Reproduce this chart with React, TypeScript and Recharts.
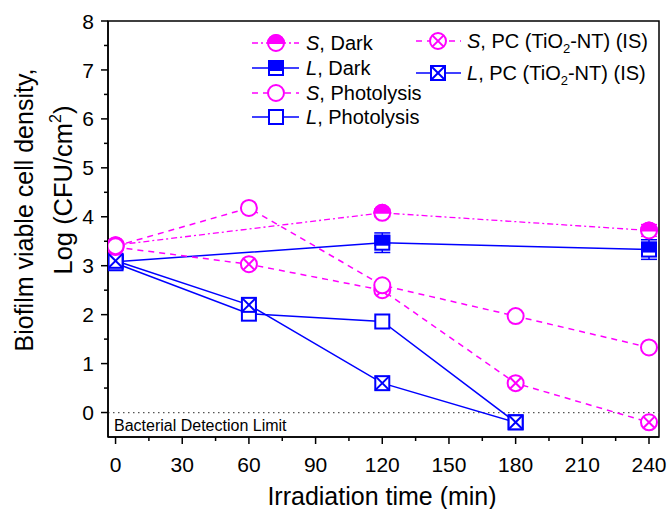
import { ErrorBar, Line, LineChart, ReferenceArea, ReferenceLine, XAxis, YAxis } from "recharts";

const times = [0, 60, 120, 180, 240];
const sDark = [3.42, null, 4.08, null, 3.72];
const sDarkErr = [0.08, null, 0.08, null, 0.12];
const lDark = [3.08, null, 3.47, null, 3.33];
const lDarkErr = [0.08, null, 0.2, null, 0.2];
const sPhoto = [3.4, 4.18, 2.6, 1.97, 1.33];
const lPhoto = [3.05, 2.02, 1.86, -0.2, null];
const sPc = [3.38, 3.03, 2.5, 0.6, -0.2];
const lPc = [3.1, 2.2, 0.6, -0.2, null];

const xTicks = [0, 15, 30, 45, 60, 75, 90, 105, 120, 135, 150, 165, 180, 195, 210, 225, 240];
const yTicks = [0, 0.5, 1, 1.5, 2, 2.5, 3, 3.5, 4, 4.5, 5, 5.5, 6, 6.5, 7, 7.5, 8];

const MAG = "#ff00ff";
const BLUE = "#0000ff";
const FONT = "Arial, 'Liberation Sans', sans-serif";
const R = 8;
const H = 7;

type Row = { t: number; v: number; e: number };
const toRows = (vals: (number | null)[], errs?: (number | null)[]): Row[] =>
  times
    .map((t, i) => ({ t, v: vals[i] as number, e: errs ? (errs[i] ?? 0) : 0 }))
    .filter((r) => r.v !== null);

type MP = { cx: number; cy: number };

const HalfCircle = ({ cx, cy }: MP) => (
  <g>
    <circle cx={cx} cy={cy} r={R} fill="#fff" stroke={MAG} strokeWidth={2} />
    <path d={`M${cx - R},${cy} A${R},${R} 0 0 1 ${cx + R},${cy} Z`} fill={MAG} stroke={MAG} strokeWidth={2} />
  </g>
);
const OpenCircle = ({ cx, cy }: MP) => <circle cx={cx} cy={cy} r={R} fill="#fff" stroke={MAG} strokeWidth={2} />;
const CrossCircle = ({ cx, cy }: MP) => {
  const d = R * 0.707;
  return (
    <g stroke={MAG} strokeWidth={2}>
      <circle cx={cx} cy={cy} r={R} fill="#fff" />
      <line x1={cx - d} y1={cy - d} x2={cx + d} y2={cy + d} />
      <line x1={cx - d} y1={cy + d} x2={cx + d} y2={cy - d} />
    </g>
  );
};
const HalfSquare = ({ cx, cy }: MP) => (
  <g>
    <rect x={cx - H} y={cy - H} width={2 * H} height={2 * H} fill="#fff" stroke={BLUE} strokeWidth={2} />
    <rect x={cx - H} y={cy - H} width={2 * H} height={H + 2} fill={BLUE} stroke={BLUE} strokeWidth={2} />
  </g>
);
const OpenSquare = ({ cx, cy }: MP) => (
  <rect x={cx - H} y={cy - H} width={2 * H} height={2 * H} fill="#fff" stroke={BLUE} strokeWidth={2} />
);
const CrossSquare = ({ cx, cy }: MP) => (
  <g stroke={BLUE} strokeWidth={2}>
    <rect x={cx - H} y={cy - H} width={2 * H} height={2 * H} fill="#fff" />
    <line x1={cx - H} y1={cy - H} x2={cx + H} y2={cy + H} />
    <line x1={cx - H} y1={cy + H} x2={cx + H} y2={cy - H} />
  </g>
);

const dotOf = (M: (p: MP) => JSX.Element) => (p: any) => <M key={`d${p.index}`} cx={p.cx} cy={p.cy} />;

const XTick = ({ x, y, payload }: any) => {
  const v = payload.value as number;
  const major = v % 30 === 0;
  return (
    <g>
      <line x1={x} x2={x} y1={y} y2={y + (major ? 7 : 4)} stroke="#000" strokeWidth={1.5} />
      {major && (
        <text x={x} y={y + 35} textAnchor="middle" fontSize={21} fontFamily={FONT} fill="#000">
          {v}
        </text>
      )}
    </g>
  );
};

const YTick = ({ x, y, payload }: any) => {
  const v = payload.value as number;
  const major = Number.isInteger(v);
  return (
    <g>
      <line x1={x - (major ? 7 : 4)} x2={x} y1={y} y2={y} stroke="#000" strokeWidth={1.5} />
      {major && (
        <text x={x - 14} y={y} dy="0.36em" textAnchor="end" fontSize={21} fontFamily={FONT} fill="#000">
          {v}
        </text>
      )}
    </g>
  );
};

const DetLabel = ({ viewBox }: any) => (
  <text x={viewBox.x + 6} y={viewBox.y + 18.5} fontSize={16} fontFamily={FONT} fill="#000">
    Bacterial Detection Limit
  </text>
);

const legendCol1 = [
  { M: HalfCircle, color: MAG, dash: "6 3 2 3", s: "S", rest: ", Dark" },
  { M: HalfSquare, color: BLUE, dash: undefined, s: "L", rest: ", Dark" },
  { M: OpenCircle, color: MAG, dash: "6 5", s: "S", rest: ", Photolysis" },
  { M: OpenSquare, color: BLUE, dash: undefined, s: "L", rest: ", Photolysis" },
];
const legendCol2 = [
  { M: CrossCircle, color: MAG, dash: "6 5", s: "S" },
  { M: CrossSquare, color: BLUE, dash: undefined, s: "L" },
];

function LegendOverlay() {
  const rows1 = [43, 68, 93, 117];
  const rows2 = [41, 73];
  return (
    <svg width={670} height={509} style={{ position: "absolute", left: 0, top: 0, pointerEvents: "none" }}>
      {legendCol1.map((it, i) => (
        <g key={i}>
          <line x1={252} x2={299} y1={rows1[i]} y2={rows1[i]} stroke={it.color} strokeWidth={1.5} strokeDasharray={it.dash} />
          <it.M cx={276} cy={rows1[i]} />
          <text x={306} y={rows1[i] + 7} fontSize={20} fontFamily={FONT} fill="#000">
            <tspan fontStyle="italic">{it.s}</tspan>
            {it.rest}
          </text>
        </g>
      ))}
      {legendCol2.map((it, i) => (
        <g key={i}>
          <line x1={416} x2={461} y1={rows2[i]} y2={rows2[i]} stroke={it.color} strokeWidth={1.5} strokeDasharray={it.dash} />
          <it.M cx={438} cy={rows2[i]} />
          <text x={467} y={rows2[i] + 7} fontSize={20} fontFamily={FONT} fill="#000">
            <tspan fontStyle="italic">{it.s}</tspan>
            {", PC (TiO"}
            <tspan fontSize={13} dy={5}>2</tspan>
            <tspan dy={-5}>{"-NT) (IS)"}</tspan>
          </text>
        </g>
      ))}
      <text transform="rotate(-90 33 210)" x={33} y={210} textAnchor="middle" fontSize={25} fontFamily={FONT} fill="#000">
        Biofilm viable cell density,
      </text>
      <text transform="rotate(-90 72 190)" x={72} y={190} textAnchor="middle" fontSize={25.5} fontFamily={FONT} fill="#000">
        {"Log (CFU/cm"}
        <tspan fontSize={16} dy={-11}>2</tspan>
        <tspan dy={11}>)</tspan>
      </text>
      <text x={382} y={505} textAnchor="middle" fontSize={25} fontFamily={FONT} fill="#000">
        Irradiation time (min)
      </text>
    </svg>
  );
}

export default function App() {
  return (
    <div style={{ position: "absolute", left: 0, top: 0, width: 670, height: 509, background: "#fff", fontFamily: FONT }}>
      <LineChart width={670} height={509} margin={{ top: 21, right: 11, bottom: 32, left: 48 }}>
        <XAxis
          dataKey="t"
          type="number"
          domain={[-3.4, 244.5]}
          ticks={xTicks}
          interval={0}
          tickSize={0}
          tickMargin={0}
          tickLine={false}
          axisLine={{ stroke: "#000", strokeWidth: 1.5 }}
          tick={(p: any) => <XTick {...p} />}
          height={40}
          allowDataOverflow
        />
        <YAxis
          type="number"
          domain={[-0.5, 8]}
          ticks={yTicks}
          interval={0}
          tickSize={0}
          tickMargin={0}
          tickLine={false}
          axisLine={{ stroke: "#000", strokeWidth: 1.5 }}
          tick={(p: any) => <YTick {...p} />}
          width={60}
          allowDataOverflow
        />
        <ReferenceArea x1={-3.4} x2={244.5} y1={-0.5} y2={8} fill="none" stroke="#000" strokeWidth={1.5} ifOverflow="extendDomain" />
        <ReferenceLine y={0} stroke="#555" strokeWidth={1.3} strokeDasharray="1.5 3.5" label={<DetLabel />} />
        <Line data={toRows(lDark, lDarkErr)} dataKey="v" type="linear" stroke={BLUE} strokeWidth={1.5} dot={dotOf(HalfSquare)} activeDot={false} isAnimationActive={false}>
          <ErrorBar dataKey="e" width={8} stroke={BLUE} strokeWidth={1.5} direction="y" />
        </Line>
        <Line data={toRows(lPhoto)} dataKey="v" type="linear" stroke={BLUE} strokeWidth={1.5} dot={dotOf(OpenSquare)} activeDot={false} isAnimationActive={false} />
        <Line data={toRows(lPc)} dataKey="v" type="linear" stroke={BLUE} strokeWidth={1.5} dot={dotOf(CrossSquare)} activeDot={false} isAnimationActive={false} />
        <Line data={toRows(sDark, sDarkErr)} dataKey="v" type="linear" stroke={MAG} strokeWidth={1.3} strokeDasharray="6 3 2 3" dot={dotOf(HalfCircle)} activeDot={false} isAnimationActive={false}>
          <ErrorBar dataKey="e" width={8} stroke={MAG} strokeWidth={1.5} direction="y" />
        </Line>
        <Line data={toRows(sPc)} dataKey="v" type="linear" stroke={MAG} strokeWidth={1.5} strokeDasharray="6 5" dot={dotOf(CrossCircle)} activeDot={false} isAnimationActive={false} />
        <Line data={toRows(sPhoto)} dataKey="v" type="linear" stroke={MAG} strokeWidth={1.5} strokeDasharray="6 5" dot={dotOf(OpenCircle)} activeDot={false} isAnimationActive={false} />
      </LineChart>
      <LegendOverlay />
    </div>
  );
}
